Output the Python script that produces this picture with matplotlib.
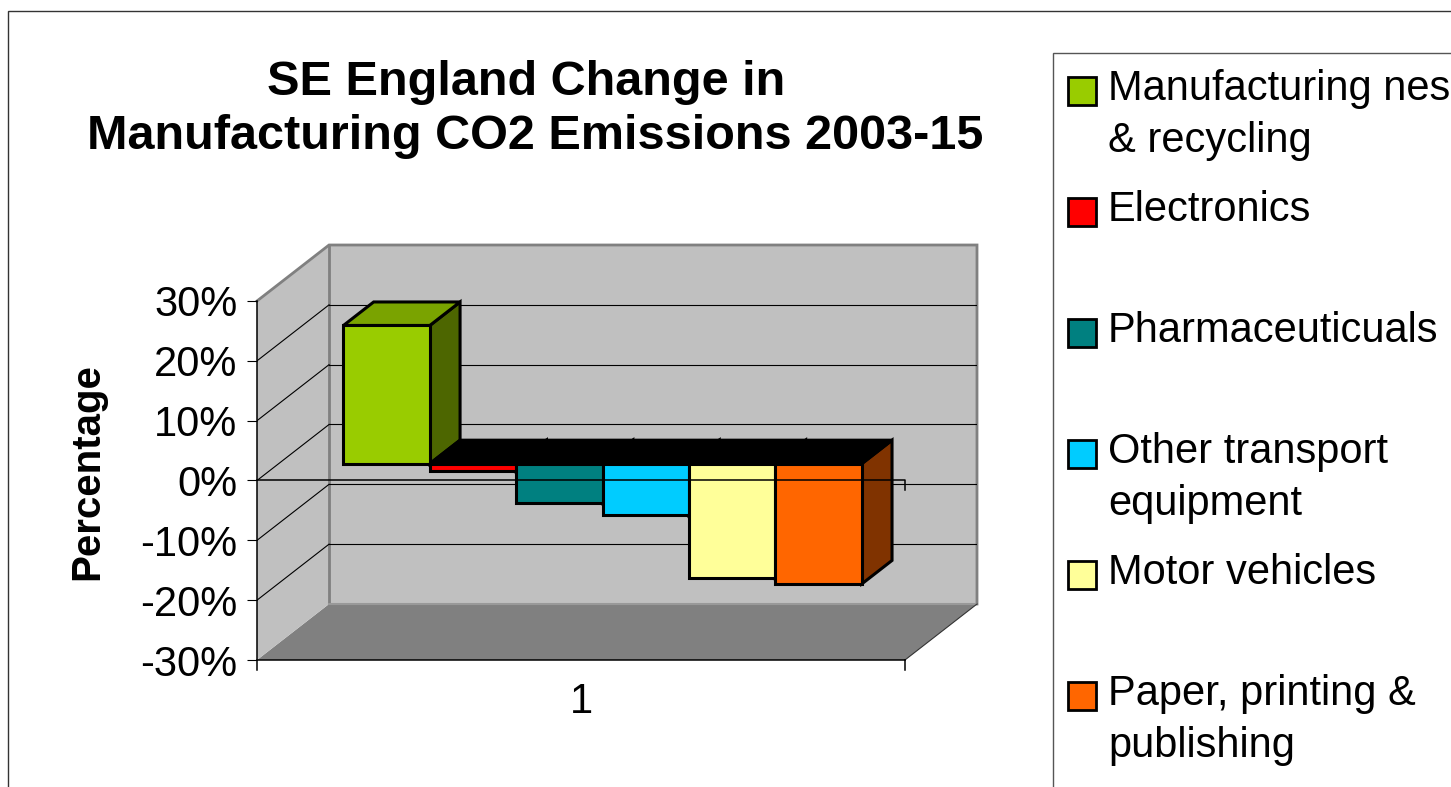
import numpy as np
import matplotlib.pyplot as plt
from matplotlib.patches import Polygon, Rectangle

plt.rcParams['font.family'] = ['Liberation Sans', 'DejaVu Sans']

# data (percent change 2003-15)
sectors = ['Manufacturing nes\n& recycling', 'Electronics', 'Pharmaceuticuals',
           'Other transport\nequipment', 'Motor vehicles', 'Paper, printing &\npublishing']
change = [23.1, -1.2, -6.5, -8.6, -19.1, -20.1]
colours = ['#99CC00', '#FF0000', '#008080', '#00CCFF', '#FFFF99', '#FF6600']
yticks = [-30, -20, -10, 0, 10, 20, 30]
ytick_labels = ['-30%', '-20%', '-10%', '0%', '10%', '20%', '30%']
category = ['1']
title_lines = ['SE England Change in', 'Manufacturing CO2 Emissions 2003-15']

W, H = 1451, 787
fig = plt.figure(figsize=(W/100, H/100), dpi=100)

# plot area (front axis 257..904 px, back wall up to 977 px / 245 px)
ax = fig.add_axes([257/W, (H-660)/H, (977-257)/W, (660-245)/H])
DX = 72/647.5          # depth offset in category units
DY = 56/(359/60.)      # depth offset in percent
ax.set_xlim(0, 1+DX)
ax.set_ylim(-30, 30+DY)
for s in ax.spines.values():
    s.set_visible(False)

def proj(x, y, d):
    return (x + d*DX, y + d*DY)

wall = '#C0C0C0'
edge = '#808080'
# floor, left wall, back wall
ax.add_patch(Polygon([proj(0, -30, 0), proj(1, -30, 0), proj(1, -30, 1), proj(0, -30, 1)],
                     closed=True, fc='#808080', ec='none', zorder=0))
ax.add_patch(Polygon([proj(0, -30, 0), proj(0, -30, 1), proj(0, 30, 1), proj(0, 30, 0)],
                     closed=True, fc=wall, ec='none', zorder=0))
ax.add_patch(Polygon([proj(0, -30, 1), proj(1, -30, 1), proj(1, 30, 1), proj(0, 30, 1)],
                     closed=True, fc=wall, ec='none', zorder=0))
# wall edges
ax.plot(*zip(proj(0, 30, 0), proj(0, 30, 1), proj(1, 30, 1), proj(1, -30, 1)),
        color=edge, lw=2, zorder=1, solid_joinstyle='miter', clip_on=False)
ax.plot(*zip(proj(0, -30, 1), proj(0, 30, 1)), color=edge, lw=2, zorder=1)
ax.plot(*zip(proj(0, -30, 1), proj(1, -30, 1)), color='#999999', lw=1.5, zorder=1)
ax.plot(*zip(proj(1, -30, 0), proj(1, -30, 1)), color='#333333', lw=0.8, zorder=1, clip_on=False)

# gridlines on back and left walls
for v in yticks[1:-1]:
    ax.plot(*zip(proj(0, v, 1), proj(1, v, 1)), color='black', lw=0.8, zorder=1)
    ax.plot(*zip(proj(0, v, 0), proj(0, v, 1)), color='black', lw=0.8, zorder=1)

# bars
n = len(change)
gap = 0.1
w = (1 - 2*gap)/n
f0, f1 = 0.30, 0.72
for i, (v, c) in enumerate(zip(change, colours)):
    x0 = gap + i*w
    x1 = x0 + w
    rgb = np.array(plt.matplotlib.colors.to_rgb(c))
    z = 3 + i*0.1
    side = [proj(x1, 0, f0), proj(x1, v, f0), proj(x1, v, f1), proj(x1, 0, f1)]
    ax.add_patch(Polygon(side, closed=True, fc=rgb*0.5, ec='black', lw=2.2,
                         joinstyle='miter', zorder=z))
    ytop = max(v, 0)
    top = [proj(x0, ytop, f0), proj(x1, ytop, f0), proj(x1, ytop, f1), proj(x0, ytop, f1)]
    ax.add_patch(Polygon(top, closed=True, fc=rgb*0.8 if v > 0 else 'black', ec='black',
                         lw=2.2, joinstyle='miter', zorder=z+0.01))
    front = [proj(x0, 0, f0), proj(x1, 0, f0), proj(x1, v, f0), proj(x0, v, f0)]
    ax.add_patch(Polygon(front, closed=True, fc=c, ec='black', lw=2.2,
                         joinstyle='miter', zorder=z+0.02))

# front axes lines
tk = 10/(359/60.)
ax.plot([0, 1, 1], [0, 0, -tk], color='black', lw=1.1, zorder=10, clip_on=False)
ax.plot([0, 1], [-30, -30], color='black', lw=1.1, zorder=10, clip_on=False)
ax.plot([0, 0], [-30-tk, 30], color='black', lw=1.1, zorder=10, clip_on=False)
ax.plot([1, 1], [-30, -30-tk], color='black', lw=1.1, zorder=10, clip_on=False)

ax.set_yticks(yticks, ytick_labels, fontsize=30)
ax.tick_params(axis='y', length=7.2, width=0.8, pad=7, direction='out')
ax.set_xticks([0.5], category, fontsize=30)
ax.tick_params(axis='x', length=0, pad=16)

# titles / labels
fig.text(526/W, 1-95/H, title_lines[0], ha='center', va='baseline',
         fontsize=35, fontweight='bold')
fig.text(535/W, 1-149/H, title_lines[1], ha='center', va='baseline',
         fontsize=35, fontweight='bold')
fig.text(87/W, 1-472/H, 'Percentage', rotation=90, ha='center', va='center',
         fontsize=29, fontweight='bold')

# outer border and legend box
fig.add_artist(Rectangle((8/W, -0.1), 1.1, 1.1-11/H, transform=fig.transFigure,
                         fill=False, ec='#333333', lw=1))
fig.add_artist(Rectangle((1053/W, -0.1), 1.1, 1.1-53/H, transform=fig.transFigure,
                         fill=False, ec='#555555', lw=1))

for i, (lab, c) in enumerate(zip(sectors, colours)):
    base = 100 + i*121
    fig.add_artist(Rectangle((1068/W, 1-(base+5)/H), 28/W, 28/H, transform=fig.transFigure,
                             fc=c, ec='black', lw=2))
    for k, line in enumerate(lab.split('\n')):
        fig.text(1108/W, 1-(base + k*52)/H, line, ha='left', va='baseline', fontsize=30)

fig.savefig('out.png', dpi=100)
